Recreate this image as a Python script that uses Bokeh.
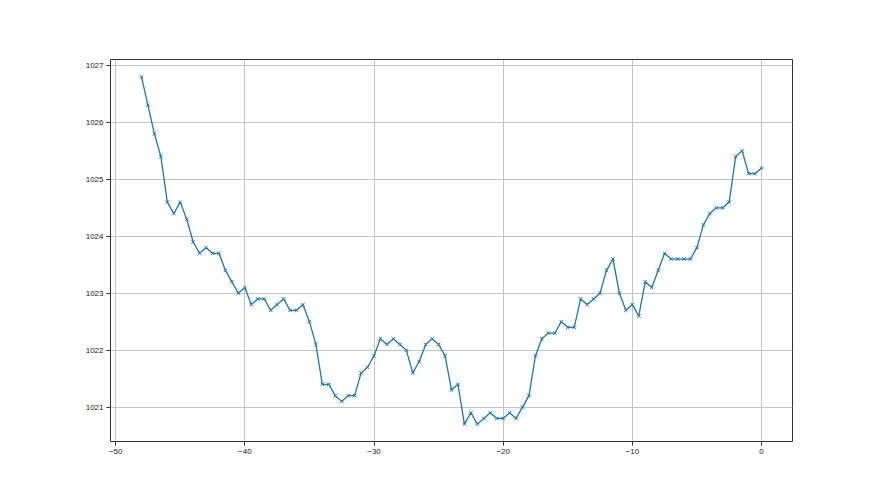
from bokeh.plotting import figure
from bokeh.models import Range1d, FixedTicker, ColumnDataSource
from bokeh.embed import file_html
from bokeh.resources import INLINE

# time offsets (step 0.5 from -48 to 0)
x_vals = [v * 0.5 for v in range(-96, 1)]
pressure = [
    1026.8, 1026.3, 1025.8, 1025.4, 1024.6, 1024.4, 1024.6, 1024.3, 1023.9, 1023.7,
    1023.8, 1023.7, 1023.7, 1023.4, 1023.2, 1023.0, 1023.1, 1022.8, 1022.9, 1022.9,
    1022.7, 1022.8, 1022.9, 1022.7, 1022.7, 1022.8, 1022.5, 1022.1, 1021.4, 1021.4,
    1021.2, 1021.1, 1021.2, 1021.2, 1021.6, 1021.7, 1021.9, 1022.2, 1022.1, 1022.2,
    1022.1, 1022.0, 1021.6, 1021.8, 1022.1, 1022.2, 1022.1, 1021.9, 1021.3, 1021.4,
    1020.7, 1020.9, 1020.7, 1020.8, 1020.9, 1020.8, 1020.8, 1020.9, 1020.8, 1021.0,
    1021.2, 1021.9, 1022.2, 1022.3, 1022.3, 1022.5, 1022.4, 1022.4, 1022.9, 1022.8,
    1022.9, 1023.0, 1023.4, 1023.6, 1023.0, 1022.7, 1022.8, 1022.6, 1023.2, 1023.1,
    1023.4, 1023.7, 1023.6, 1023.6, 1023.6, 1023.6, 1023.8, 1024.2, 1024.4, 1024.5,
    1024.5, 1024.6, 1025.4, 1025.5, 1025.1, 1025.1, 1025.2,
]
x_ticks = [-50, -40, -30, -20, -10, 0]
y_ticks = [1021, 1022, 1023, 1024, 1025, 1026, 1027]

src = ColumnDataSource(dict(x=x_vals, y=pressure))

xmin, xmax = min(x_vals), max(x_vals)
ymin, ymax = min(pressure), max(pressure)
xpad = 0.05 * (xmax - xmin)
ypad = 0.05 * (ymax - ymin)

p = figure(width=880, height=495, output_backend="svg", toolbar_location=None,
           x_range=Range1d(xmin - xpad, xmax + xpad),
           y_range=Range1d(ymin - ypad, ymax + ypad),
           min_border_left=110, min_border_right=88,
           min_border_top=59, min_border_bottom=54)

p.line("x", "y", source=src, line_color="#1f77b4", line_width=1.3)
p.scatter("x", "y", source=src, marker="x", size=5, line_color="#1f77b4", line_width=1)

p.xaxis.ticker = FixedTicker(ticks=x_ticks)
p.yaxis.ticker = FixedTicker(ticks=y_ticks)
p.xaxis.major_label_overrides = {t: ("\u2212" + str(abs(t)) if t < 0 else str(t)) for t in x_ticks}

for ax in (p.xaxis[0], p.yaxis[0]):
    ax.axis_line_color = None
    ax.major_tick_out = 4
    ax.major_tick_in = 0
    ax.minor_tick_line_color = None
    ax.major_tick_line_color = "#333333"
    ax.major_label_text_font = "Liberation Sans"
    ax.major_label_text_font_size = "8px"
    ax.major_label_text_color = "#222222"
    ax.major_label_standoff = 3

p.outline_line_color = "#333333"
p.outline_line_width = 1
p.xgrid.grid_line_color = "#c4c4c4"
p.ygrid.grid_line_color = "#c4c4c4"
p.xgrid.grid_line_width = 1
p.ygrid.grid_line_width = 1
p.background_fill_color = "white"
p.border_fill_color = "white"

open("out.html", "w").write(file_html(p, INLINE))
